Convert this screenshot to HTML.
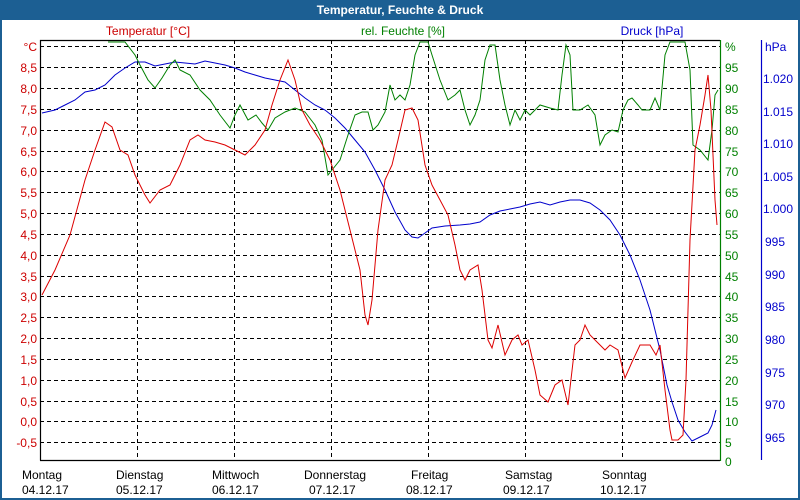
<!DOCTYPE html>
<html><head><meta charset="utf-8"><style>
body{margin:0;background:#fff}
svg{display:block;font-family:"Liberation Sans","DejaVu Sans",sans-serif}
</style></head><body>
<svg width="800" height="500" viewBox="0 0 800 500" xmlns="http://www.w3.org/2000/svg">
<rect x="0" y="0" width="800" height="500" fill="#1c5f93"/>
<rect x="2" y="20" width="796" height="478" fill="#fff"/>
<text x="400" y="14" fill="#fff" font-size="12" font-weight="bold" text-anchor="middle">Temperatur, Feuchte &amp; Druck</text>
<g stroke="#000" stroke-dasharray="4,3" stroke-width="1">
<line x1="40" x2="720" y1="46.5" y2="46.5"/><line x1="40" x2="720" y1="67.5" y2="67.5"/><line x1="40" x2="720" y1="88.5" y2="88.5"/><line x1="40" x2="720" y1="109.5" y2="109.5"/><line x1="40" x2="720" y1="130.5" y2="130.5"/><line x1="40" x2="720" y1="151.5" y2="151.5"/><line x1="40" x2="720" y1="171.5" y2="171.5"/><line x1="40" x2="720" y1="192.5" y2="192.5"/><line x1="40" x2="720" y1="213.5" y2="213.5"/><line x1="40" x2="720" y1="234.5" y2="234.5"/><line x1="40" x2="720" y1="255.5" y2="255.5"/><line x1="40" x2="720" y1="276.5" y2="276.5"/><line x1="40" x2="720" y1="296.5" y2="296.5"/><line x1="40" x2="720" y1="317.5" y2="317.5"/><line x1="40" x2="720" y1="338.5" y2="338.5"/><line x1="40" x2="720" y1="359.5" y2="359.5"/><line x1="40" x2="720" y1="380.5" y2="380.5"/><line x1="40" x2="720" y1="401.5" y2="401.5"/><line x1="40" x2="720" y1="421.5" y2="421.5"/><line x1="40" x2="720" y1="442.5" y2="442.5"/>
<line x1="137.5" x2="137.5" y1="40" y2="460"/><line x1="234.5" x2="234.5" y1="40" y2="460"/><line x1="331.5" x2="331.5" y1="40" y2="460"/><line x1="428.5" x2="428.5" y1="40" y2="460"/><line x1="525.5" x2="525.5" y1="40" y2="460"/><line x1="622.5" x2="622.5" y1="40" y2="460"/>
</g>
<g stroke="#000" stroke-width="1.2" fill="none"><polyline points="40.5,460.5 40.5,40.5 720,40.5"/><line x1="40" x2="720" y1="460.5" y2="460.5"/></g>
<line x1="720.5" x2="720.5" y1="40" y2="461" stroke="#008000" stroke-width="1.2"/>
<line x1="761.5" x2="761.5" y1="40" y2="460" stroke="#0000cc" stroke-width="1.2"/>
<g font-size="12" fill="#cc0000" text-anchor="end">
<text x="37" y="51">°C</text><text x="37" y="72">8,5</text><text x="37" y="93">8,0</text><text x="37" y="114">7,5</text><text x="37" y="135">7,0</text><text x="37" y="156">6,5</text><text x="37" y="176">6,0</text><text x="37" y="197">5,5</text><text x="37" y="218">5,0</text><text x="37" y="239">4,5</text><text x="37" y="260">4,0</text><text x="37" y="281">3,5</text><text x="37" y="301">3,0</text><text x="37" y="322">2,5</text><text x="37" y="343">2,0</text><text x="37" y="364">1,5</text><text x="37" y="385">1,0</text><text x="37" y="406">0,5</text><text x="37" y="426">0,0</text><text x="37" y="447">-0,5</text>
<text x="148" y="35" text-anchor="middle">Temperatur [°C]</text>
</g>
<g font-size="12" fill="#008000">
<text x="725" y="51">%</text><text x="725" y="72">95</text><text x="725" y="93">90</text><text x="725" y="114">85</text><text x="725" y="135">80</text><text x="725" y="156">75</text><text x="725" y="176">70</text><text x="725" y="197">65</text><text x="725" y="218">60</text><text x="725" y="239">55</text><text x="725" y="260">50</text><text x="725" y="281">45</text><text x="725" y="301">40</text><text x="725" y="322">35</text><text x="725" y="343">30</text><text x="725" y="364">25</text><text x="725" y="385">20</text><text x="725" y="406">15</text><text x="725" y="426">10</text><text x="725" y="447">5</text><text x="725" y="466">0</text>
<text x="403" y="35" text-anchor="middle">rel. Feuchte [%]</text>
</g>
<g font-size="12" fill="#0000cc">
<text x="765" y="51">hPa</text><text x="763" y="83">1.020</text><text x="763" y="116">1.015</text><text x="763" y="148">1.010</text><text x="763" y="181">1.005</text><text x="763" y="213">1.000</text><text x="765" y="246">995</text><text x="765" y="279">990</text><text x="765" y="311">985</text><text x="765" y="344">980</text><text x="765" y="377">975</text><text x="765" y="409">970</text><text x="765" y="442">965</text>
<text x="652" y="35" text-anchor="middle">Druck [hPa]</text>
</g>
<g font-size="12" fill="#000">
<text x="22" y="479">Montag</text><text x="22" y="494">04.12.17</text>
<text x="116" y="479">Dienstag</text><text x="116" y="494">05.12.17</text>
<text x="212" y="479">Mittwoch</text><text x="212" y="494">06.12.17</text>
<text x="304" y="479">Donnerstag</text><text x="309" y="494">07.12.17</text>
<text x="411" y="479">Freitag</text><text x="406" y="494">08.12.17</text>
<text x="505" y="479">Samstag</text><text x="503" y="494">09.12.17</text>
<text x="602" y="479">Sonntag</text><text x="600" y="494">10.12.17</text>
</g>
<polyline fill="none" stroke="#0000cc" stroke-width="1" points="42,113 55,110 65,105 75,100 85,92 95,90 105,85 115,75 125,68 135,62 145,62 155,66 165,64 175,62 185,63 195,64 205,61 215,63 225,65 235,68 245,72 255,75 265,78 275,80 285,82 295,90 305,98 315,105 325,110 335,118 345,128 355,140 365,152 375,170 385,190 395,212 405,230 412,237 418,238 425,233 432,228 445,226 460,225 470,224 480,222 490,215 500,211 510,209 520,207 530,204 540,202 550,205 560,202 570,200 580,200 590,203 600,210 610,220 620,235 630,255 640,280 650,310 660,350 667,385 672,402 678,420 685,432 692,441 700,437 708,433 712,425 716,410"/>
<polyline fill="none" stroke="#008000" stroke-width="1" points="108,42 125,42 135,55 140,65 148,80 155,88 162,78 170,65 175,60 180,70 190,75 200,90 210,100 220,115 230,128 235,115 240,105 248,120 256,115 262,123 268,130 275,118 285,112 295,108 305,112 315,125 322,140 328,175 332,170 340,160 348,135 355,115 362,112 368,112 373,130 378,125 385,112 390,85 395,100 400,95 405,100 410,85 415,55 420,42 428,42 432,55 440,80 448,100 455,95 460,90 465,110 470,125 475,115 480,100 485,60 490,45 495,45 500,80 505,105 510,125 515,110 520,120 525,110 530,115 540,105 550,108 558,110 562,75 566,45 570,55 573,110 580,110 588,105 595,115 600,145 605,135 612,130 618,132 623,110 628,100 632,98 638,105 642,110 650,110 655,98 660,110 665,55 670,42 685,42 690,70 693,145 700,150 708,160 712,130 715,95 718,90"/>
<polyline fill="none" stroke="#dd0000" stroke-width="1" points="42,295 55,270 70,235 85,180 95,150 105,122 112,127 120,150 128,155 135,175 145,195 150,203 160,190 170,185 180,165 190,140 198,135 205,140 215,142 225,145 235,150 245,155 255,145 265,130 272,105 280,80 288,60 295,80 302,110 310,125 320,140 330,160 340,190 350,230 360,270 365,315 368,325 372,300 378,230 385,180 392,165 398,140 405,110 412,108 418,120 425,165 432,185 440,200 448,215 455,245 460,270 465,280 470,270 478,265 482,290 488,340 492,348 498,325 505,355 512,340 518,335 522,345 528,340 535,370 540,395 548,402 555,385 562,380 568,405 575,345 580,340 585,325 590,335 600,345 605,350 610,345 618,350 625,378 632,362 640,345 650,345 656,355 660,345 665,390 670,430 672,440 678,440 683,435 686,380 690,240 695,150 700,125 705,95 708,75 711,110 715,200 717,225"/>
</svg>
</body></html>
